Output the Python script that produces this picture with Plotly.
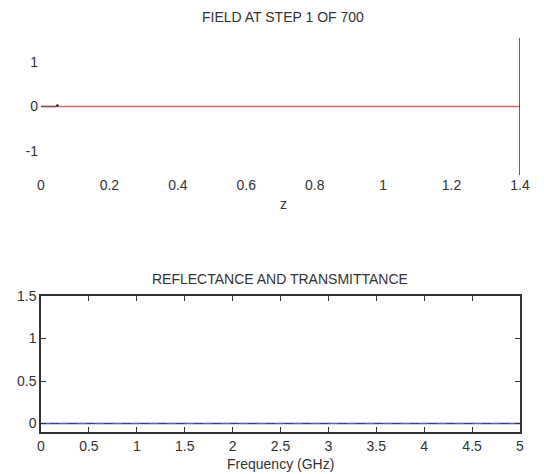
import plotly.graph_objects as go

# page body has an 8px margin; figure pixel = page pixel - OFF
OFF = 8
W, H = 544 - 2 * OFF, 474 - OFF

# Top panel: field at step 1
z_grid = [0.0, 0.035, 0.045, 0.05, 0.2, 0.4, 0.6, 0.8, 1.0, 1.2, 1.4]
ey_field = [0.0, 0.0, 0.02, 0.0, 0.0, 0.0, 0.0, 0.0, 0.0, 0.0, 0.0]
hx_field = [0.0, 0.0, 0.0, 0.0, 0.0, 0.0, 0.0, 0.0, 0.0, 0.0, 0.0]
src_z = [0.0, 0.045]
src_val = [0.0, 0.0]
boundary_z = [1.4, 1.4]
boundary_y = [-1.55, 1.55]
top_xticks = [0, 0.2, 0.4, 0.6, 0.8, 1, 1.2, 1.4]
top_yticks = [-1, 0, 1]

# Bottom panel: reflectance and transmittance
freq = [0.0, 0.5, 1.0, 1.5, 2.0, 2.5, 3.0, 3.5, 4.0, 4.5, 5.0]
reflectance = [0.0] * 11
transmittance = [0.0] * 11
bot_xticks = [0, 0.5, 1, 1.5, 2, 2.5, 3, 3.5, 4, 4.5, 5]
bot_yticks = [0, 0.5, 1, 1.5]

def py(px):
    return 1 - (px - OFF) / H

def px_(x):
    return (x - OFF) / W

xl, xr = px_(41), px_(520)
TXT = "#333"
font = dict(family="Liberation Sans, Arial, sans-serif", size=14, color=TXT)

fig = go.Figure()
fig.add_trace(go.Scatter(x=z_grid, y=hx_field, mode="lines",
                         line=dict(color="#d06a6a", width=1.3), xaxis="x", yaxis="y"))
fig.add_trace(go.Scatter(x=src_z, y=src_val, mode="lines",
                         line=dict(color="#7a4a55", width=1.3), xaxis="x", yaxis="y"))
fig.add_trace(go.Scatter(x=[0.048], y=[0.02], mode="markers",
                         marker=dict(color="#222", size=2.5), xaxis="x", yaxis="y"))
fig.add_trace(go.Scatter(x=boundary_z, y=boundary_y, mode="lines",
                         line=dict(color="#333", width=1.5), xaxis="x", yaxis="y"))

fig.add_trace(go.Scatter(x=freq, y=reflectance, mode="lines",
                         line=dict(color="#3a3a9a", width=1.3), xaxis="x2", yaxis="y2"))
fig.add_trace(go.Scatter(x=freq, y=transmittance, mode="lines",
                         line=dict(color="#6060b0", width=1, dash="dash"), xaxis="x2", yaxis="y2"))

def label(text, x, y):
    return dict(text=text, x=px_(x), y=py(y), xref="paper", yref="paper",
                xanchor="center", yanchor="middle", showarrow=False,
                font=dict(size=14, color=TXT))

fig.update_layout(
    width=W, height=H, margin=dict(l=0, r=0, t=0, b=0),
    paper_bgcolor="white", plot_bgcolor="white", showlegend=False, font=font,
    xaxis=dict(domain=[xl, xr], anchor="y", range=[0, 1.4], tickvals=top_xticks,
               ticktext=["0", "0.2", "0.4", "0.6", "0.8", "1", "1.2", "1.4"],
               showgrid=False, zeroline=False, showline=False, ticks="", automargin=False,
               tickfont=dict(size=14, color=TXT)),
    yaxis=dict(domain=[py(175), py(38)], anchor="x", range=[-1.55, 1.55], tickvals=top_yticks,
               ticktext=["-1", "0", "1"],
               showgrid=False, zeroline=False, showline=False, ticks="", automargin=False,
               tickfont=dict(size=14, color=TXT), ticklabelstandoff=2),
    xaxis2=dict(domain=[xl, xr], anchor="y2", range=[0, 5], tickvals=bot_xticks,
                ticktext=["0", "0.5", "1", "1.5", "2", "2.5", "3", "3.5", "4", "4.5", "5"],
                showgrid=False, zeroline=False, showline=True, linecolor="#333", linewidth=1.5,
                mirror="ticks", ticks="inside", ticklen=5, tickcolor="#333", automargin=False,
                tickfont=dict(size=14, color=TXT)),
    yaxis2=dict(domain=[py(432), py(296)], anchor="x2", range=[-0.1, 1.5], tickvals=bot_yticks,
                ticktext=["0", "0.5", "1", "1.5"],
                showgrid=False, zeroline=False, showline=True, linecolor="#333", linewidth=1.5,
                mirror="ticks", ticks="inside", ticklen=5, tickcolor="#333", automargin=False,
                tickfont=dict(size=14, color=TXT)),
    annotations=[
        label("FIELD AT STEP 1 OF 700", 283, 17),
        label("z", 283, 204),
        label("REFLECTANCE AND TRANSMITTANCE", 280, 279),
        label("Frequency (GHz)", 280, 464),
    ],
)

fig.write_html("out.html")
